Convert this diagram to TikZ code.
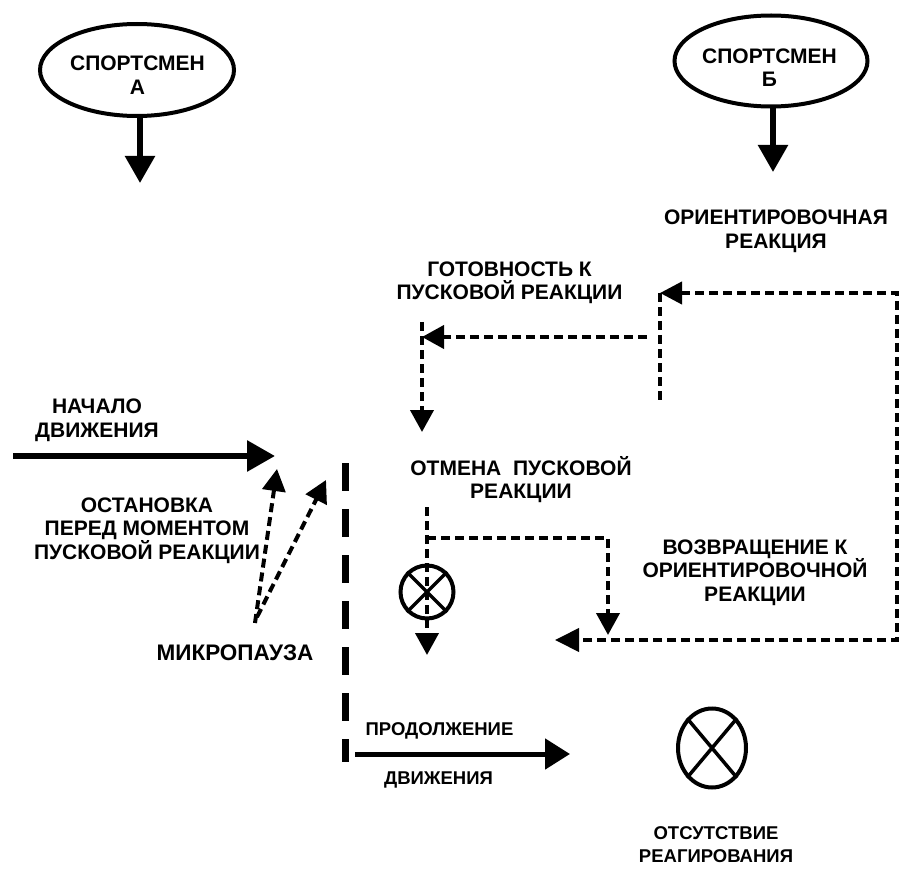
\documentclass[tikz,border=0pt]{standalone}
\usepackage{fontspec}
\setmainfont{Liberation Sans}
\usetikzlibrary{arrows.meta,shapes.geometric}
\begin{document}
\begin{tikzpicture}[x=1pt,y=-1pt,
  lbl/.style={align=center,inner sep=0pt,font=\fontsize{21}{23.5}\selectfont\bfseries,
    execute at begin node=\strut, execute at end node=\strut},
  small/.style={font=\fontsize{18.5}{22.5}\selectfont\bfseries},
  oval/.style={ellipse,draw,line width=4pt,inner sep=0pt},
  solidarr/.style={line width=5.5pt,-{Triangle[length=27pt,width=29pt]}},
  dashln/.style={line width=4pt,dash pattern=on 9pt off 5pt},
  dasharr/.style={dashln,-{Triangle[length=22pt,width=23pt]}},
  ring/.style={draw,line width=4pt,inner sep=0pt},
  crossln/.style={line width=3.5pt}]
\fill[white] (0,0) rectangle (903,869);
\path[use as bounding box] (0,0) rectangle (903,869);

% athletes
\node[oval,minimum width=194pt,minimum height=92pt] (eA) at (137,70) {};
\node[lbl] (tA) at (137.5,78.5) {СПОРТСМЕН\\А};
\node[oval,minimum width=193pt,minimum height=91pt] (eB) at (771,61) {};
\node[lbl] (tB) at (769.5,71) {СПОРТСМЕН\\Б};
\coordinate (tipA) at (140,183);
\draw[solidarr] (tipA |- eA.south) -- (tipA);
\coordinate (tipB) at (773,172);
\draw[solidarr] (tipB |- eB.south) -- (tipB);

% labels
\node[lbl] (orient) at (776,232.5) {ОРИЕНТИРОВОЧНАЯ\\РЕАКЦИЯ};
\node[lbl] (ready) at (509.5,284) {ГОТОВНОСТЬ К\\ПУСКОВОЙ РЕАКЦИИ};
\node[lbl] (cancel) at (521,481) {ОТМЕНА\ \ ПУСКОВОЙ\\РЕАКЦИИ};
\node[lbl] (back) at (755,574) {ВОЗВРАЩЕНИЕ К\\ОРИЕНТИРОВОЧНОЙ\\РЕАКЦИИ};
\node[lbl] (start) at (97,421.5) {НАЧАЛО\\ДВИЖЕНИЯ};
\node[lbl] (stop) at (147,532) {ОСТАНОВКА\\ПЕРЕД МОМЕНТОМ\\ПУСКОВОЙ РЕАКЦИИ};
\node[lbl,font=\fontsize{22.5}{23.5}\selectfont\bfseries] (micro) at (235,655.5) {МИКРОПАУЗА};
\node[lbl,small] (cont1) at (439.5,730.5) {ПРОДОЛЖЕНИЕ};
\node[lbl,small] (cont2) at (438.5,779.5) {ДВИЖЕНИЯ};
\node[lbl,small] (none) at (716,848) {ОТСУТСТВИЕ\\РЕАГИРОВАНИЯ};

% loop on the right
\coordinate (loopTL) at (660,293);
\coordinate (loopBR) at (897,640);
\coordinate (loopBL) at (555,640);
\draw[dashln,{Triangle[length=22pt,width=22pt]}-{Triangle[length=24pt,width=23pt]}]
  (loopTL) -| (loopBR) -- (loopBL);
\coordinate (loopLB) at (660,400);
\draw[dashln] (loopTL) -- (loopLB);
\coordinate (hStart) at (647,337);
\coordinate (hTip) at (422,337);
\draw[dasharr] (hStart) -- (hTip);
\coordinate (vStart) at (422,322);
\coordinate (vTip) at (422,432);
\draw[dasharr] (vStart) -- (vTip);

% cancel branch
\coordinate (cStart) at (427,507);
\coordinate (cTip) at (427,655);
\draw[dasharr] (cStart) -- (cTip);
\coordinate (bStart) at (427,538);
\coordinate (bTip) at (608,635);
\draw[dasharr] (bStart) -| (bTip);
\node[ring,circle,minimum size=53pt] (xs) at (427,592) {};
\draw[crossln] (xs.45) -- (xs.225) (xs.135) -- (xs.315);

% no reaction
\node[ring,ellipse,minimum width=68pt,minimum height=79pt] (xb) at (712,748) {};
\draw[crossln] (xb.50) -- (xb.230) (xb.130) -- (xb.310);

% start of movement
\coordinate (nS) at (13,456);
\coordinate (nT) at (275,456);
\draw[line width=6pt,-{Triangle[length=28pt,width=30pt]}] (nS) -- (nT);

% micropause arrows
\coordinate (m1s) at (255,623);
\coordinate (m1t) at (277,469);
\coordinate (m2s) at (257,617);
\coordinate (m2t) at (326,480);
\draw[dasharr] (m1s) -- (m1t);
\draw[dasharr] (m2s) -- (m2t);

% barrier
\coordinate (barT) at (345,463);
\coordinate (barB) at (345,762);
\draw[line width=7pt,dash pattern=on 28pt off 18pt] (barT) -- (barB);

% continuation
\coordinate (pS) at (355,754);
\coordinate (pT) at (570,754);
\draw[line width=5pt,-{Triangle[length=25pt,width=30pt]}] (pS) -- (pT);
\end{tikzpicture}
\end{document}
